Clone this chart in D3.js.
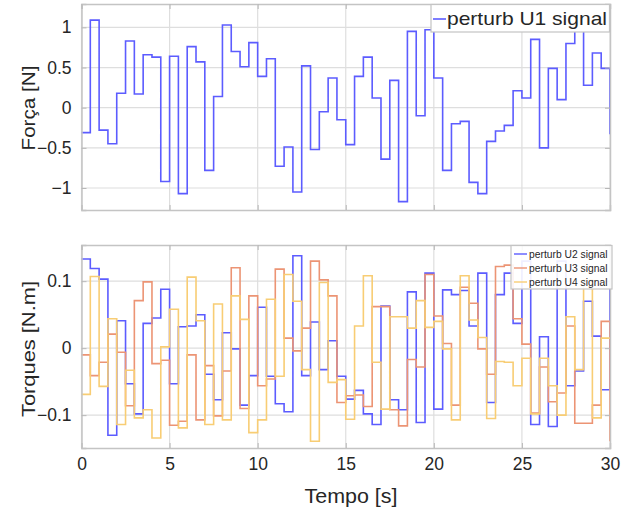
<!DOCTYPE html>
<html><head><meta charset="utf-8">
<script src="https://cdnjs.cloudflare.com/ajax/libs/d3/7.8.5/d3.min.js"></script>
<style>body{margin:0;background:#fff}svg text{font-family:"Liberation Sans",Arial,sans-serif;fill:#262626}</style>
</head><body>
<svg id="c" width="635" height="515"></svg>
<script>
const stepTime = 0.5;
const xTicks = [0,5,10,15,20,25,30];
const yTicksTop = [-1,-0.5,0,0.5,1];
const yTicksBot = [-0.1,0,0.1];
const u1 = [-0.31,1.09,-0.28,-0.45,0.18,0.83,0.17,0.66,0.63,-0.92,0.64,-1.07,0.76,0.57,-0.78,0.14,1.03,0.70,0.51,0.81,
 0.39,0.61,-0.73,-0.49,-1.05,0.52,-0.52,-0.05,0.37,-0.15,-0.46,0.39,0.63,0.12,-0.64,0.34,-1.17,0.95,-0.10,0.97,
 0.37,-0.78,-0.20,-0.17,-0.93,-1.07,-0.42,-0.29,-0.22,0.21,0.12,0.85,-0.50,0.49,0.10,0.80,1.15,0.28,0.68,0.49,-0.33];
const u2 = [0.133,0.119,0.103,-0.130,0.041,-0.053,-0.098,0.037,0.045,0.088,-0.053,0.032,0.033,0.050,-0.039,-0.077,0.023,-0.001,-0.085,-0.041,
 0.061,-0.042,-0.083,-0.095,0.138,-0.041,0.039,-0.032,0.011,-0.042,-0.076,-0.063,-0.098,-0.114,0.063,-0.077,-0.092,0.084,-0.111,0.112,
 -0.091,0.087,0.080,0.086,0.033,0.112,-0.081,0.080,0.112,0.037,0.130,-0.114,0.017,-0.117,0.130,-0.056,-0.034,0.070,0.018,-0.062,0.090];
const u3 = [-0.010,-0.041,-0.021,0.021,-0.006,-0.086,0.071,0.099,-0.023,-0.018,-0.115,-0.109,-0.010,-0.107,-0.026,-0.101,-0.034,0.120,-0.090,0.078,
 -0.056,-0.046,0.118,0.015,-0.004,0.030,0.130,0.102,0.078,-0.081,-0.071,-0.070,-0.087,0.062,0.062,-0.092,-0.116,-0.017,-0.028,0.110,
 0.048,0.007,-0.085,0.091,0.067,-0.001,-0.039,0.122,0.124,0.044,0.006,-0.097,-0.028,-0.080,-0.067,0.033,-0.112,-0.112,-0.085,0.040,-0.139];
const u4 = [-0.069,0.107,-0.057,0.044,-0.114,-0.033,-0.104,-0.092,-0.134,0.002,0.058,-0.119,0.106,0.041,-0.114,0.066,-0.107,0.078,0.043,-0.126,
 -0.107,0.073,-0.042,0.110,0.070,-0.032,-0.139,0.098,-0.051,-0.047,-0.106,0.033,0.108,-0.021,-0.091,0.047,0.047,0.030,0.071,0.031,
 0.040,-0.001,-0.107,0.108,0.042,0.016,-0.105,-0.020,-0.021,-0.056,-0.015,-0.098,-0.015,-0.056,-0.100,0.047,-0.032,0.102,-0.104,0.015,0.015];
const seriesTop = [{name:"perturb U1 signal", values:u1, color:"#5c5cff"}];
const seriesBot = [
 {name:"perturb U2 signal", values:u2, color:"#5c5cff"},
 {name:"perturb U3 signal", values:u3, color:"#ec9474"},
 {name:"perturb U4 signal", values:u4, color:"#f8cd74"}];

const svg = d3.select("#c");
const L = 81.5, R = 610;
const x = d3.scaleLinear().domain([0,30]).range([L,R]);

function panel(top, bottom, yDom, yTicks, series, showXLabels, yFmt){
  const y = d3.scaleLinear().domain(yDom).range([bottom, top]);
  const g = svg.append("g");
  g.append("g").selectAll("line").data(xTicks).join("line")
   .attr("x1",d=>x(d)).attr("x2",d=>x(d)).attr("y1",top).attr("y2",bottom)
   .attr("stroke","#dedede").attr("stroke-width",1.2);
  g.append("g").selectAll("line").data(yTicks).join("line")
   .attr("x1",L).attr("x2",R).attr("y1",d=>y(d)).attr("y2",d=>y(d))
   .attr("stroke","#dedede").attr("stroke-width",1.2);
  const line = d3.line().x(d=>x(d[0])).y(d=>y(d[1])).curve(d3.curveStepAfter);
  series.forEach(s=>{
    const pts = s.values.map((v,i)=>[Math.min(i*stepTime,30), v]);
    g.append("path").attr("d", line(pts)).attr("fill","none")
     .attr("stroke", s.color).attr("stroke-width",1.6).attr("stroke-linejoin","miter");
  });
  const ax = d3.axisBottom(x).tickValues(xTicks).tickSize(-5).tickPadding(10)
    .tickFormat(showXLabels ? d3.format("d") : ()=> "");
  const ga = g.append("g").attr("transform",`translate(0,${bottom})`).call(ax);
  const ay = d3.axisLeft(y).tickValues(yTicks).tickSize(-5).tickPadding(10).tickFormat(yFmt);
  const gy = g.append("g").attr("transform",`translate(${L},0)`).call(ay);
  const axt = d3.axisTop(x).tickValues(xTicks).tickSize(-5).tickFormat("");
  const gt = g.append("g").attr("transform",`translate(0,${top})`).call(axt);
  const ayr = d3.axisRight(y).tickValues(yTicks).tickSize(-5).tickFormat("");
  const gr = g.append("g").attr("transform",`translate(${R},0)`).call(ayr);
  [ga,gy,gt,gr].forEach(a=>{
    a.selectAll("path").attr("stroke","#c4c4c4").attr("stroke-width",1.5);
    a.selectAll("line").attr("stroke","#b8b8b8");
    a.selectAll("text").attr("fill","#262626").style("font-size","17.5px").style("font-family",'"Liberation Sans",Arial,sans-serif');
  });
  return y;
}

panel(4, 210, [-1.274, 1.291], yTicksTop, seriesTop, false, d=> d3.format("")(d));
panel(245, 448, [-0.149, 0.154], yTicksBot, seriesBot, true, d=> d===0?"0":d3.format(".1f")(d));

svg.append("text").attr("transform","translate(35,108) rotate(-90)").attr("text-anchor","middle")
  .style("font-size","19px").attr("textLength",85).attr("lengthAdjust","spacingAndGlyphs").text("Força [N]");
svg.append("text").attr("transform","translate(35,349) rotate(-90)").attr("text-anchor","middle")
  .style("font-size","19px").attr("textLength",136).attr("lengthAdjust","spacingAndGlyphs").text("Torques [N.m]");
svg.append("text").attr("x",351).attr("y",503).attr("text-anchor","middle")
  .style("font-size","19.5px").attr("textLength",93).attr("lengthAdjust","spacingAndGlyphs").text("Tempo [s]");

const lt = svg.append("g");
lt.append("rect").attr("x",431).attr("y",4.5).attr("width",178.5).attr("height",27.5)
  .attr("fill","#fff").attr("stroke","#c4c4c4").attr("stroke-width",1.2);
seriesTop.forEach((s,i)=>{
  lt.append("line").attr("x1",433).attr("x2",446).attr("y1",19).attr("y2",19).attr("stroke",s.color).attr("stroke-width",1.6);
  lt.append("text").attr("x",447).attr("y",25).style("font-size","18.5px")
    .attr("textLength",160).attr("lengthAdjust","spacingAndGlyphs").text(s.name);
});
const lb = svg.append("g");
lb.append("rect").attr("x",511).attr("y",245.5).attr("width",101).attr("height",43.5)
  .attr("fill","#fff").attr("fill-opacity",0.9).attr("stroke","#c4c4c4").attr("stroke-width",1.2);
seriesBot.forEach((s,i)=>{
  const yy = 254 + i*14;
  lb.append("line").attr("x1",514).attr("x2",527).attr("y1",yy).attr("y2",yy).attr("stroke",s.color).attr("stroke-width",1.4);
  lb.append("text").attr("x",529).attr("y",yy+3.7).style("font-size","10.3px").text(s.name);
});
</script>
</body></html>
